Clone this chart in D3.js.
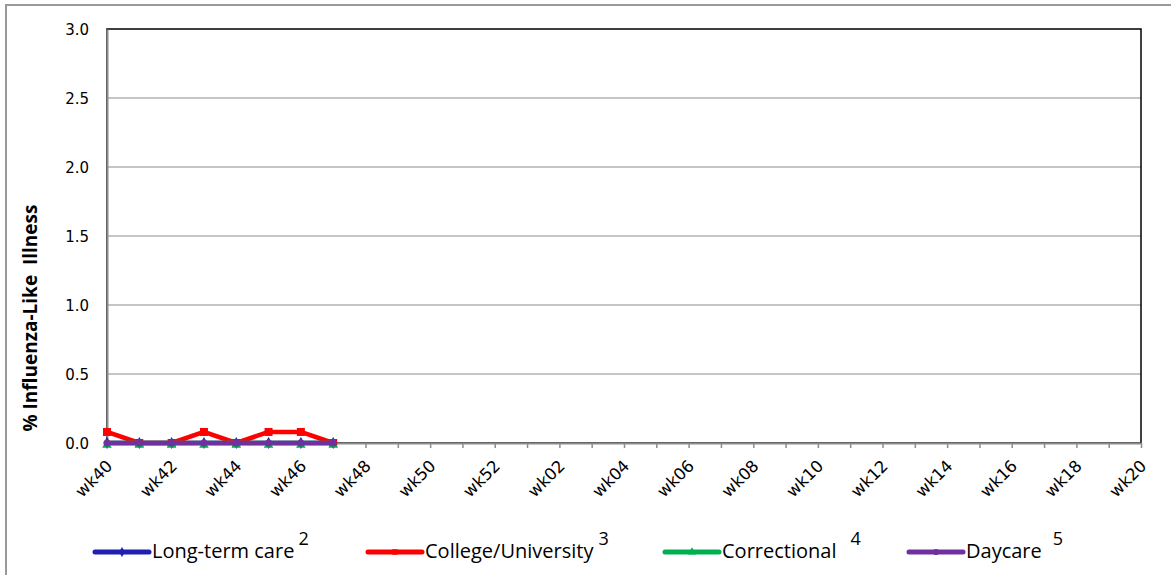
<html>
<style>
  body { margin: 0; background: #fff; }
  svg { display: block; }
  text { font-family: "Open Sans", "DejaVu Sans", sans-serif; fill: #000; }
</style>
<script src="https://d3js.org/d3.v7.min.js"></script>
<body>
<div id="container"></div>
<script>

// weeks of the season, wk40 .. wk20
const weeks = ["wk40","wk41","wk42","wk43","wk44","wk45","wk46","wk47","wk48","wk49","wk50","wk51","wk52",
  "wk01","wk02","wk03","wk04","wk05","wk06","wk07","wk08","wk09","wk10","wk11","wk12","wk13","wk14",
  "wk15","wk16","wk17","wk18","wk19","wk20"];

// reported so far (wk40 - wk47)
const longTermCare = [0, 0, 0, 0, 0, 0, 0, 0];
const college      = [0.08, 0, 0, 0.08, 0, 0.08, 0.08, 0];
const correctional = [0, 0, 0, 0, 0, 0, 0, 0];
const daycare      = [0, 0, 0, 0, 0, 0, 0, 0];

const yTicks = [0, 0.5, 1.0, 1.5, 2.0, 2.5, 3.0];

const series = [
  { name: "Long-term care",     sup: "2", values: longTermCare, color: "#1f1fb4", marker: "diamond" },
  { name: "College/University", sup: "3", values: college,      color: "#ff0000", marker: "square" },
  { name: "Correctional",       sup: "4", values: correctional, color: "#00b050", marker: "triangle" },
  { name: "Daycare",            sup: "5", values: daycare,      color: "#7030a0", marker: "circle" }
];

const W = 1171, H = 575;
const margin = { top: 29, right: 30, bottom: 132, left: 107 };

const svg = d3.select("#container").append("svg")
  .attr("width", W).attr("height", H);

// outer chart border
svg.append("rect")
  .attr("x", 6).attr("y", 5).attr("width", W + 10).attr("height", H + 10)
  .attr("fill", "none").attr("stroke", "#999").attr("stroke-width", 2);

const x = d3.scalePoint().domain(weeks).range([margin.left, W - margin.right]);
const y = d3.scaleLinear().domain([0, 3]).range([H - margin.bottom, margin.top]);

const g = svg.append("g");

// grid lines
g.selectAll(".grid").data(yTicks.filter(d => d > 0 && d < 3)).join("line")
  .attr("x1", margin.left).attr("x2", W - margin.right)
  .attr("y1", d => y(d)).attr("y2", d => y(d))
  .attr("stroke", "#8c8c8c").attr("stroke-width", 1);

// plot area frame
g.append("rect")
  .attr("x", margin.left).attr("y", margin.top)
  .attr("width", W - margin.right - margin.left).attr("height", y(0) - margin.top)
  .attr("fill", "none").attr("stroke", "#000").attr("stroke-width", 1.5);

// y axis
const yAxis = d3.axisLeft(y).tickValues(yTicks).tickFormat(d3.format(".1f")).tickSize(0).tickPadding(18);
const yg = g.append("g").attr("transform", `translate(${margin.left},0)`).call(yAxis);
yg.select(".domain").attr("stroke", "#8c8c8c").attr("stroke-width", 2);
yg.selectAll("text").style("font-size", "15px").style("font-family", "DejaVu Sans, sans-serif").attr("dy", "0.35em");

// x axis
const xAxis = d3.axisBottom(x).tickSize(5).tickSizeOuter(0).tickFormat((d, i) => i % 2 === 0 ? d : "");
const xg = g.append("g").attr("transform", `translate(0,${y(0)})`).call(xAxis);
xg.select(".domain").attr("stroke", "#8c8c8c").attr("stroke-width", 2);
xg.selectAll(".tick line").attr("stroke", "#8c8c8c").attr("stroke-width", 1.5);
xg.selectAll("text")
  .style("font-size", "16.5px").style("font-family", "DejaVu Sans, sans-serif")
  .style("text-anchor", "end")
  .attr("x", 0).attr("y", 0).attr("dy", 0)
  .attr("transform", "translate(6,24) rotate(-45)");

// y title
svg.append("text")
  .attr("transform", `translate(37,318) rotate(-90)`)
  .attr("text-anchor", "middle")
  .style("font-size", "19px").style("font-weight", "bold")
  .style("white-space", "pre")
  .text("% Influenza-Like  Illness");

const symbolFor = m => ({
  diamond: d3.symbolDiamond, square: d3.symbolSquare,
  triangle: d3.symbolTriangle, circle: d3.symbolCircle
})[m];

const line = d3.line().x((d, i) => x(weeks[i])).y(d => y(d));

// lines and markers
series.forEach(s => {
  g.append("path")
    .attr("d", line(s.values))
    .attr("fill", "none").attr("stroke", s.color)
    .attr("stroke-width", 4.5).attr("stroke-linejoin", "round");
  g.selectAll(null).data(s.values).join("path")
    .attr("transform", (d, i) => `translate(${x(weeks[i])},${y(d) + (s.marker === "triangle" ? 2 : 0)})`)
    .attr("d", d3.symbol().type(symbolFor(s.marker)).size(s.marker === "square" ? 64 : 40))
    .attr("fill", s.color);
});

// legend
const legendX = [95, 368, 665, 909];
const supGap = [4, 5, 14, 11];
const legendY = 552;
const lg = svg.append("g");
series.forEach((s, i) => {
  const lx = legendX[i];
  lg.append("line")
    .attr("x1", lx).attr("x2", lx + 54).attr("y1", legendY).attr("y2", legendY)
    .attr("stroke", s.color).attr("stroke-width", 5).attr("stroke-linecap", "round");
  lg.append("path")
    .attr("transform", `translate(${lx + 27},${legendY})`)
    .attr("d", d3.symbol().type(symbolFor(s.marker)).size(30))
    .attr("fill", s.color);
  const t = lg.append("text")
    .attr("x", lx + 57).attr("y", legendY + 6)
    .style("font-size", "20px")
    .text(s.name);
  const w = t.node().getComputedTextLength();
  lg.append("text")
    .attr("x", lx + 57 + w + supGap[i]).attr("y", legendY - 7)
    .style("font-size", "18px")
    .text(s.sup);
});

</script>
</body>
</html>
